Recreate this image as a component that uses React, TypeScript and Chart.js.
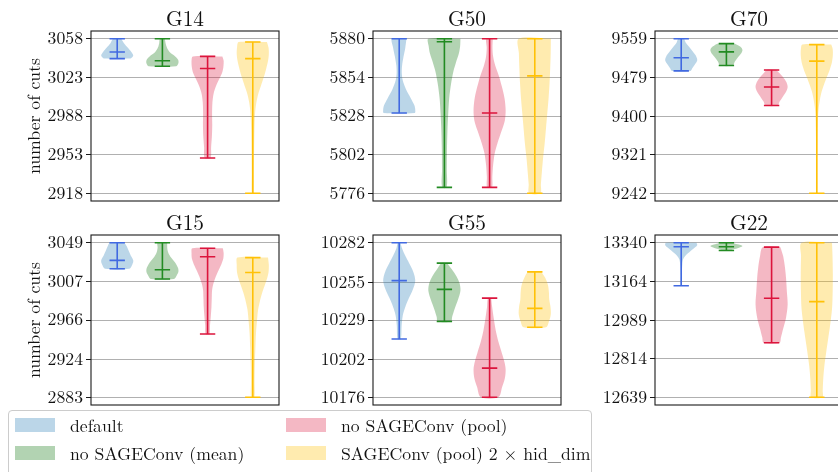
import React, { useEffect, useRef } from 'react';
import { Chart, registerables } from 'chart.js';

Chart.register(...registerables);

const FONT = '"Latin Modern Roman", "Liberation Serif", serif';

const graphNames = ['G14', 'G50', 'G70', 'G15', 'G55', 'G22'];
const variantLabels = ['default', 'no SAGEConv (mean)', 'no SAGEConv (pool)', 'SAGEConv (pool) 2 \u00d7 hid_dim'];
const variantPositions = [1, 2, 3, 4];
const lineColors = ['#4169e1', '#228b22', '#dc143c', '#ffc107'];
const fillColors = ['rgba(31,119,180,0.3)', 'rgba(0,110,0,0.3)', 'rgba(220,20,60,0.3)', 'rgba(255,193,7,0.32)'];

// ---- G14 ----
const G14_ticks = [2918, 2953, 2988, 3023, 3058];
const G14_max = [3058, 3058, 3042, 3055];
const G14_median = [3046, 3038, 3031, 3040];
const G14_min = [3040, 3033, 2950, 2918];
const G14_shape = [
  [[3058, 0.25], [3054, 0.42], [3050, 0.65], [3046, 0.88], [3043, 1.0], [3041, 0.92], [3040, 0.8]],
  [[3058, 0.15], [3054, 0.2], [3050, 0.28], [3046, 0.45], [3042, 0.8], [3039, 0.98], [3036, 1.0], [3033, 0.85]],
  [[3042, 0.92], [3038, 1.0], [3032, 0.98], [3027, 0.9], [3022, 0.74], [3015, 0.52], [3008, 0.37], [3000, 0.3], [2990, 0.28], [2980, 0.29], [2970, 0.27], [2960, 0.22], [2950, 0.18]],
  [[3055, 0.88], [3050, 0.98], [3044, 1.0], [3038, 0.95], [3030, 0.82], [3023, 0.68], [3015, 0.5], [3008, 0.34], [3000, 0.22], [2990, 0.14], [2975, 0.1], [2955, 0.08], [2935, 0.07], [2918, 0.06]],
];

// ---- G50 ----
const G50_ticks = [5776, 5802, 5828, 5854, 5880];
const G50_max = [5880, 5880, 5880, 5880];
const G50_median = [5830, 5878, 5830, 5855];
const G50_min = [5830, 5780, 5780, 5776];
const G50_shape = [
  [[5880, 0.45], [5874, 0.38], [5868, 0.27], [5862, 0.18], [5857, 0.16], [5852, 0.22], [5846, 0.42], [5840, 0.72], [5835, 0.95], [5832, 1.0], [5830, 0.97]],
  [[5880, 1.0], [5875, 0.98], [5870, 0.9], [5864, 0.72], [5858, 0.56], [5850, 0.42], [5840, 0.3], [5830, 0.24], [5818, 0.19], [5805, 0.16], [5792, 0.15], [5780, 0.14]],
  [[5880, 0.2], [5874, 0.18], [5868, 0.22], [5862, 0.35], [5855, 0.58], [5848, 0.76], [5840, 0.93], [5832, 1.0], [5825, 0.95], [5818, 0.75], [5810, 0.5], [5803, 0.32], [5795, 0.22], [5787, 0.17], [5780, 0.15]],
  [[5880, 1.0], [5870, 0.99], [5860, 0.96], [5850, 0.92], [5840, 0.86], [5830, 0.78], [5820, 0.7], [5810, 0.62], [5800, 0.52], [5790, 0.44], [5782, 0.38], [5776, 0.35]],
];

// ---- G70 ----
const G70_ticks = [9242, 9321, 9400, 9479, 9559];
const G70_max = [9559, 9549, 9495, 9547];
const G70_median = [9520, 9532, 9460, 9513];
const G70_min = [9493, 9504, 9422, 9242];
const G70_shape = [
  [[9559, 0.18], [9550, 0.3], [9542, 0.5], [9533, 0.72], [9525, 0.9], [9515, 1.0], [9506, 0.85], [9498, 0.68], [9493, 0.58]],
  [[9549, 0.5], [9545, 0.75], [9540, 0.95], [9535, 1.0], [9528, 0.9], [9520, 0.7], [9512, 0.52], [9504, 0.4]],
  [[9495, 0.3], [9488, 0.5], [9480, 0.72], [9470, 0.92], [9460, 1.0], [9450, 0.9], [9440, 0.7], [9430, 0.5], [9422, 0.38]],
  [[9547, 0.9], [9538, 0.99], [9525, 1.0], [9512, 0.95], [9500, 0.85], [9490, 0.75], [9480, 0.62], [9465, 0.45], [9450, 0.3], [9435, 0.2], [9420, 0.13], [9400, 0.08], [9350, 0.05], [9300, 0.04], [9242, 0.04]],
];

// ---- G15 ----
const G15_ticks = [2883, 2924, 2966, 3007, 3049];
const G15_max = [3049, 3049, 3043, 3033];
const G15_median = [3030, 3020, 3034, 3017];
const G15_min = [3021, 3010, 2951, 2883];
const G15_shape = [
  [[3049, 0.45], [3045, 0.6], [3040, 0.72], [3035, 0.85], [3030, 1.0], [3026, 0.95], [3021, 0.75]],
  [[3049, 0.3], [3044, 0.3], [3039, 0.35], [3034, 0.5], [3028, 0.78], [3022, 0.97], [3018, 1.0], [3014, 0.9], [3010, 0.72]],
  [[3043, 0.95], [3038, 1.0], [3032, 0.98], [3026, 0.86], [3020, 0.7], [3013, 0.52], [3005, 0.36], [2998, 0.28], [2990, 0.26], [2980, 0.24], [2970, 0.2], [2960, 0.15], [2951, 0.12]],
  [[3033, 0.95], [3025, 1.0], [3017, 0.98], [3010, 0.88], [3002, 0.72], [2995, 0.58], [2986, 0.44], [2977, 0.33], [2965, 0.26], [2952, 0.2], [2935, 0.16], [2920, 0.13], [2900, 0.11], [2883, 0.1]],
];

// ---- G55 ----
const G55_ticks = [10176, 10202, 10229, 10255, 10282];
const G55_max = [10282, 10268, 10244, 10262];
const G55_median = [10256, 10250, 10196, 10237];
const G55_min = [10216, 10228, 10176, 10224];
const G55_shape = [
  [[10282, 0.08], [10278, 0.18], [10273, 0.38], [10268, 0.62], [10262, 0.88], [10256, 1.0], [10250, 0.85], [10244, 0.6], [10238, 0.38], [10232, 0.22], [10225, 0.15], [10216, 0.1]],
  [[10268, 0.18], [10264, 0.45], [10259, 0.75], [10254, 0.95], [10249, 1.0], [10243, 0.85], [10236, 0.62], [10231, 0.48], [10228, 0.42]],
  [[10244, 0.1], [10238, 0.16], [10230, 0.26], [10222, 0.38], [10214, 0.55], [10206, 0.77], [10200, 0.93], [10195, 1.0], [10189, 0.95], [10183, 0.78], [10176, 0.55]],
  [[10262, 0.42], [10258, 0.65], [10253, 0.82], [10248, 0.88], [10243, 0.9], [10238, 0.98], [10233, 1.0], [10228, 0.88], [10224, 0.7]],
];

// ---- G22 ----
const G22_ticks = [12639, 12814, 12989, 13164, 13340];
const G22_max = [13340, 13340, 13320, 13340];
const G22_median = [13322, 13322, 13088, 13073];
const G22_min = [13145, 13305, 12886, 12639];
const G22_shape = [
  [[13340, 0.95], [13330, 1.0], [13318, 0.85], [13305, 0.62], [13292, 0.42], [13280, 0.25], [13265, 0.12], [13245, 0.07], [13220, 0.05], [13190, 0.04], [13145, 0.04]],
  [[13340, 0.3], [13333, 0.7], [13325, 1.0], [13316, 0.75], [13310, 0.45], [13305, 0.25]],
  [[13320, 0.55], [13280, 0.72], [13230, 0.83], [13180, 0.9], [13120, 0.95], [13060, 1.0], [13000, 0.9], [12950, 0.72], [12910, 0.58], [12886, 0.5]],
  [[13340, 0.95], [13280, 0.98], [13200, 1.0], [13120, 0.99], [13040, 0.95], [12960, 0.82], [12900, 0.7], [12840, 0.58], [12780, 0.47], [12720, 0.4], [12670, 0.37], [12639, 0.35]],
];

const panelTicks = [G14_ticks, G50_ticks, G70_ticks, G15_ticks, G55_ticks, G22_ticks];
const panelMax = [G14_max, G50_max, G70_max, G15_max, G55_max, G22_max];
const panelMedian = [G14_median, G50_median, G70_median, G15_median, G55_median, G22_median];
const panelMin = [G14_min, G50_min, G70_min, G15_min, G55_min, G22_min];
const panelShape = [G14_shape, G50_shape, G70_shape, G15_shape, G55_shape, G22_shape];

// layout (pixels)
const COL_LEFT = [0, 282, 564];
const ROW_TOP = [0, 204];
const Y_AXIS_W = 91;
const PLOT_W = 188;
const PLOT_H = 170;
const TITLE_H = 31;
const CANVAS_W = Y_AXIS_W + PLOT_W + 3;
const CANVAS_H = TITLE_H + PLOT_H + 3;

const X_MIN = 0.42;
const X_MAX = 4.58;
const HALF_W = 0.355;
const CAP_HALF = 0.17;

const TEXT_SIZE = 17.7;
const TITLE_SIZE = 21.3;

function buildDatasets(p: number) {
  const ds: any[] = [];
  for (let v = 0; v < 4; v++) {
    const pos = variantPositions[v];
    const shape = panelShape[p][v];
    const right = shape.map(([y, w]) => ({ x: pos + w * HALF_W, y }));
    const left = shape.slice().reverse().map(([y, w]) => ({ x: pos - w * HALF_W, y }));
    const outline = [...right, ...left, right[0]];
    ds.push({
      label: variantLabels[v] + ' body',
      data: outline,
      showLine: true,
      fill: 'shape',
      backgroundColor: fillColors[v],
      borderColor: 'rgba(0,0,0,0)',
      borderWidth: 0,
      pointRadius: 0,
      tension: 0.3,
      order: 2,
    });
    const mx = panelMax[p][v];
    const md = panelMedian[p][v];
    const mn = panelMin[p][v];
    ds.push({
      label: variantLabels[v] + ' lines',
      data: [
        { x: pos - CAP_HALF, y: mx }, { x: pos + CAP_HALF, y: mx }, { x: pos, y: null },
        { x: pos - CAP_HALF, y: mn }, { x: pos + CAP_HALF, y: mn }, { x: pos, y: null },
        { x: pos - CAP_HALF, y: md }, { x: pos + CAP_HALF, y: md }, { x: pos, y: null },
        { x: pos, y: mx }, { x: pos, y: mn },
      ],
      showLine: true,
      fill: false,
      borderColor: lineColors[v],
      borderWidth: 1.6,
      pointRadius: 0,
      tension: 0,
      spanGaps: false,
      order: 1,
    });
  }
  return ds;
}

function Panel({ index }: { index: number }) {
  const ref = useRef<HTMLCanvasElement | null>(null);
  useEffect(() => {
    if (!ref.current) return;
    const ticks = panelTicks[index];
    const lo = ticks[0];
    const hi = ticks[ticks.length - 1];
    const pad = (hi - lo) * 0.05;
    const col = index % 3;
    const title = graphNames[index];
    const framePlugin = {
      id: 'panelFrame',
      afterDatasetsDraw(chart: any) {
        const { ctx, chartArea } = chart;
        ctx.save();
        ctx.strokeStyle = '#1a1a1a';
        ctx.lineWidth = 1.1;
        ctx.strokeRect(chartArea.left, chartArea.top, chartArea.right - chartArea.left, chartArea.bottom - chartArea.top);
        ctx.restore();
      },
      afterDraw(chart: any) {
        const { ctx, chartArea } = chart;
        ctx.save();
        ctx.font = `${TITLE_SIZE}px ${FONT}`;
        ctx.fillStyle = '#111';
        ctx.textAlign = 'center';
        ctx.textBaseline = 'alphabetic';
        ctx.fillText(title, (chartArea.left + chartArea.right) / 2, chartArea.top - 5.5);
        ctx.restore();
      },
    };
    const chart = new Chart(ref.current, {
      type: 'scatter',
      data: { datasets: buildDatasets(index) },
      options: {
        animation: false,
        responsive: false,
        events: [],
        layout: { padding: { top: TITLE_H, right: 3, bottom: 3, left: 0 } },
        plugins: {
          legend: { display: false },
          tooltip: { enabled: false },
          title: { display: false },
        },
        scales: {
          x: { type: 'linear', min: X_MIN, max: X_MAX, display: false },
          y: {
            type: 'linear',
            min: lo - pad,
            max: hi + pad,
            afterBuildTicks: (s: any) => {
              s.ticks = ticks.map((v) => ({ value: v }));
            },
            afterFit: (s: any) => {
              s.width = Y_AXIS_W;
              s.paddingTop = 0;
              s.paddingBottom = 0;
            },
            ticks: {
              autoSkip: false,
              padding: 3,
              color: '#111',
              font: { family: FONT, size: TEXT_SIZE },
              callback: (v: any) => String(v),
            },
            grid: {
              color: '#b0b0b0',
              lineWidth: 1,
              tickLength: 5,
              tickColor: '#1a1a1a',
              tickWidth: 1,
              drawTicks: true,
            },
            border: { display: false },
            title: {
              display: col === 0,
              text: 'number of cuts',
              color: '#111',
              font: { family: FONT, size: TEXT_SIZE },
              padding: { top: 24, bottom: 0 },
            },
          },
        },
      },
      plugins: [framePlugin],
    } as any);
    return () => chart.destroy();
  }, [index]);
  const col = index % 3;
  const row = Math.floor(index / 3);
  return (
    <canvas
      ref={ref}
      width={CANVAS_W}
      height={CANVAS_H}
      style={{ position: 'absolute', left: COL_LEFT[col], top: ROW_TOP[row], width: CANVAS_W, height: CANVAS_H }}
    />
  );
}

const legendPatchX = [15, 286];
const legendTextX = [70, 341];
const legendPatchY = [418, 446];
const legendBaseline = [432, 460];

function Legend() {
  return (
    <>
      <div
        style={{
          position: 'absolute', left: 8, top: 410, width: 584, height: 80,
          border: '1px solid #cccccc', borderRadius: 4, background: '#fff', boxSizing: 'border-box',
        }}
      />
      {variantLabels.map((lab, i) => {
        const c = i < 2 ? 0 : 1;
        const r = i % 2;
        return (
          <React.Fragment key={lab}>
            <div style={{ position: 'absolute', left: legendPatchX[c], top: legendPatchY[r], width: 40, height: 14, background: fillColors[i] }} />
            <div
              style={{
                position: 'absolute', left: legendTextX[c], top: legendBaseline[r] - 30, height: 30,
                display: 'flex', alignItems: 'baseline',
                fontFamily: FONT, fontSize: TEXT_SIZE, lineHeight: 1, color: '#111', whiteSpace: 'nowrap',
              }}
            >
              <span style={{ display: 'inline-block', height: 30, lineHeight: '30px', verticalAlign: 'baseline' }} />
              <span>{lab}</span>
            </div>
          </React.Fragment>
        );
      })}
    </>
  );
}

export default function App() {
  return (
    <div style={{ position: 'fixed', left: 0, top: 0, width: 838, height: 472, overflow: 'hidden', background: '#fff', fontFamily: FONT }}>
      {graphNames.map((g, i) => (
        <Panel key={g} index={i} />
      ))}
      <Legend />
    </div>
  );
}
